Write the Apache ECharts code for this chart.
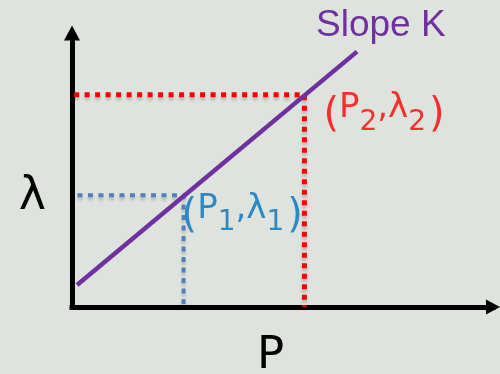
<!DOCTYPE html>
<html>
<head>
<meta charset="utf-8">
<script src="https://cdn.jsdelivr.net/npm/echarts@6/dist/echarts.min.js"></script>
<style>
  html, body { margin: 0; padding: 0; background: #dee3dd; }
  #chart { width: 500px; height: 374px; }
</style>
</head>
<body>
<div id="chart"></div>
<script>
// Linear relation λ = f(P) with slope K, and two marked operating points
const slopeLineP = [0.12, 6.77];
const slopeLineLambda = [0.80, 9.32];
const pointP = [2.65, 5.52];
const pointLambda = [4.08, 7.75];
const guideStartP = [0.13, 0.05];
const pointNames = ['1', '2'];
const pointColors = ['#0070c0', '#ff0000'];
const guideColors = ['#4f81bd', '#ff0000'];

const FONT = '"DejaVu Sans", Verdana, sans-serif';

const chart = echarts.init(document.getElementById('chart'), null, { renderer: 'canvas' });

// dotted guide lines from the λ axis to each point, then down to the P axis
const guideSeries = pointP.map((p, i) => ({
  type: 'line',
  silent: true,
  symbol: 'none',
  z: 2,
  lineStyle: {
    color: guideColors[i],
    width: i === 0 ? 4 : 5,
    type: [5, 5.5],
    cap: 'butt',
    shadowColor: 'rgba(0,0,0,0.18)',
    shadowBlur: 3,
    shadowOffsetY: 3
  },
  data: [[guideStartP[i], pointLambda[i]], [p, pointLambda[i]], [p, 0]]
}));

// "(Pn,λn)" point captions; top padding drops the subscripts below the baseline
function captionRich(color) {
  return {
    p: { fontFamily: FONT, fontSize: 40, color: color, verticalAlign: 'top', padding: [4, 0, 0, 0] },
    q: { fontFamily: FONT, fontSize: 40, color: color, verticalAlign: 'top', padding: [4, 0, 0, 3] },
    m: { fontFamily: FONT, fontSize: 34, color: color, verticalAlign: 'top' },
    s: { fontFamily: FONT, fontSize: 28, color: color, verticalAlign: 'top', padding: [17, 0, 0, 0] }
  };
}

const labelSeries = {
  type: 'scatter',
  symbolSize: 0,
  z: 5,
  data: pointP.map((p, i) => ({
    value: [p, pointLambda[i]],
    label: {
      show: true,
      position: i === 0 ? [-2, -3] : [19, -3],
      align: 'left',
      verticalAlign: 'top',
      formatter: '{p|(}{m|P}{s|' + pointNames[i] + '}{m|,λ}{s|' + pointNames[i] + '}{q|)}',
      rich: captionRich(pointColors[i])
    }
  }))
};

chart.setOption({
  backgroundColor: '#dee3dd',
  animation: false,
  grid: { left: 72, right: 7, top: 33, bottom: 67, outerBoundsMode: 'none', containLabel: false },
  xAxis: {
    type: 'value',
    min: 0, max: 10,
    name: 'P',
    nameLocation: 'middle',
    nameGap: 27,
    nameTextStyle: { fontFamily: FONT, fontSize: 45, color: '#000', verticalAlign: 'top', padding: [0, 24, 0, 0] },
    axisLine: { show: true, symbol: ['none', 'triangle'], symbolSize: [15, 14], lineStyle: { color: '#000', width: 5, cap: 'square' } },
    axisTick: { show: false },
    axisLabel: { show: false },
    splitLine: { show: false }
  },
  yAxis: {
    type: 'value',
    min: 0, max: 10,
    name: 'λ',
    nameLocation: 'middle',
    nameRotate: 0,
    nameGap: 26,
    nameTextStyle: { fontFamily: FONT, fontSize: 46, color: '#000', verticalAlign: 'top', padding: [4, 0, 0, 0] },
    axisLine: { show: true, symbol: ['none', 'triangle'], symbolSize: [16, 15], lineStyle: { color: '#000', width: 5, cap: 'square' } },
    axisTick: { show: false },
    axisLabel: { show: false },
    splitLine: { show: false }
  },
  graphic: [{
    type: 'text',
    left: 316,
    top: 7,
    style: {
      text: 'Slope K',
      fontFamily: '"Liberation Sans", Arial, sans-serif',
      fontSize: 37,
      fill: '#7030a0'
    }
  }],
  series: [
    ...guideSeries,
    {
      type: 'line',
      silent: true,
      symbol: 'none',
      z: 3,
      lineStyle: { color: '#7030a0', width: 4.5, cap: 'butt' },
      data: slopeLineP.map((p, i) => [p, slopeLineLambda[i]])
    },
    labelSeries
  ]
});
</script>
</body>
</html>
